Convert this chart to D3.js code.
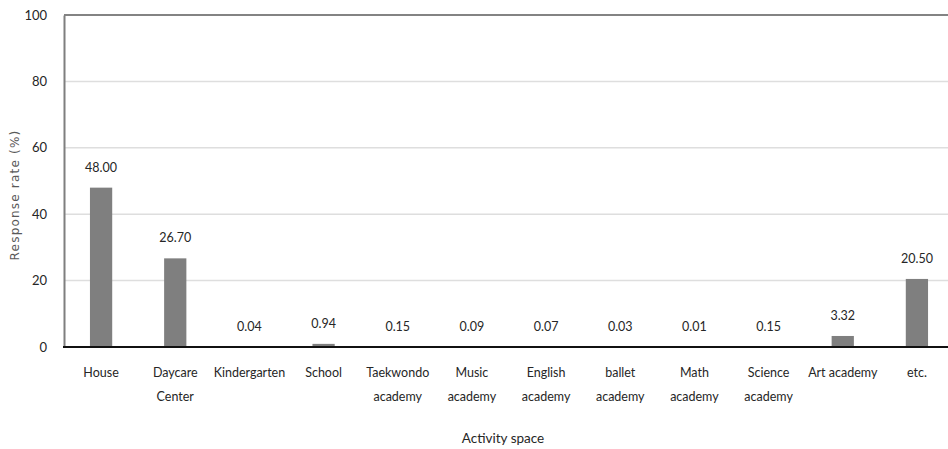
<!DOCTYPE html>
<html>
<head>
<meta charset="utf-8">
<script src="https://cdn.jsdelivr.net/npm/d3@7"></script>
<style>
  html, body { margin: 0; padding: 0; background: #fff; }
  svg { display: block; }
</style>
</head>
<body>
<svg id="chart" width="948" height="449"></svg>
<script>
// Response rate by activity space
const categories = [
  ["House"], ["Daycare", "Center"], ["Kindergarten"], ["School"],
  ["Taekwondo", "academy"], ["Music", "academy"], ["English", "academy"],
  ["ballet", "academy"], ["Math", "academy"], ["Science", "academy"],
  ["Art academy"], ["etc."]
];
const values = [48.00, 26.70, 0.04, 0.94, 0.15, 0.09, 0.07, 0.03, 0.01, 0.15, 3.32, 20.50];
const yTicks = [0, 20, 40, 60, 80, 100];

const svg = d3.select("#chart");
const margin = { left: 64, top: 15, right: -6, bottom: 102 };
const W = 948, H = 449;
const plotW = W - margin.left - margin.right;
const plotH = H - margin.top - margin.bottom;

const labelFont = "Lato, 'Open Sans', sans-serif";

const x = d3.scaleBand()
  .domain(d3.range(categories.length))
  .range([margin.left, margin.left + plotW])
  .paddingInner(0.7).paddingOuter(0.35);

const y = d3.scaleLinear().domain([0, 100]).range([margin.top + plotH, margin.top]);

// horizontal gridlines
svg.append("g")
  .selectAll("line")
  .data(yTicks.filter(t => t > 0 && t < 100))
  .join("line")
  .attr("x1", margin.left).attr("x2", W)
  .attr("y1", d => y(d)).attr("y2", d => y(d))
  .attr("stroke", "#dedede").attr("stroke-width", 1.5);

// top border
svg.append("line")
  .attr("x1", margin.left).attr("x2", W)
  .attr("y1", y(100)).attr("y2", y(100))
  .attr("stroke", "#5a5a5a").attr("stroke-width", 1.6);

// bars
svg.append("g")
  .selectAll("rect")
  .data(values)
  .join("rect")
  .attr("x", (d, i) => x(i))
  .attr("width", x.bandwidth())
  .attr("y", d => y(d))
  .attr("height", d => y(0) - y(d))
  .attr("fill", "#7f7f7f");

// value labels
svg.append("g")
  .selectAll("text")
  .data(values)
  .join("text")
  .attr("x", (d, i) => x(i) + x.bandwidth() / 2)
  .attr("y", d => y(d) - 16)
  .attr("text-anchor", "middle")
  .attr("font-family", labelFont)
  .attr("font-size", 12.5)
  .attr("fill", "#262626")
  .text(d => d.toFixed(2));

// y axis
const yAxis = d3.axisLeft(y).tickValues(yTicks).tickSize(0).tickPadding(17);
const gy = svg.append("g")
  .attr("transform", `translate(${margin.left},0)`)
  .call(yAxis);
gy.select(".domain").attr("stroke", "#7f7f7f").attr("stroke-width", 2);
gy.selectAll("text")
  .attr("font-family", labelFont)
  .attr("font-size", 13)
  .attr("fill", "#262626");

// x axis baseline
svg.append("line")
  .attr("x1", margin.left - 1).attr("x2", W)
  .attr("y1", y(0)).attr("y2", y(0))
  .attr("stroke", "#111").attr("stroke-width", 1.8);

// category labels
const cat = svg.append("g")
  .selectAll("text")
  .data(categories)
  .join("text")
  .attr("x", (d, i) => x(i) + x.bandwidth() / 2)
  .attr("y", y(0) + 30)
  .attr("text-anchor", "middle")
  .attr("font-family", labelFont)
  .attr("font-size", 12.5)
  .attr("fill", "#262626");
cat.selectAll("tspan")
  .data(d => d)
  .join("tspan")
  .attr("x", function () { return d3.select(this.parentNode).attr("x"); })
  .attr("dy", (d, i) => i === 0 ? 0 : 24)
  .text(d => d);

// axis titles
svg.append("text")
  .attr("x", 503).attr("y", y(0) + 96)
  .attr("text-anchor", "middle")
  .attr("font-family", labelFont)
  .attr("font-size", 13.5)
  .attr("fill", "#262626")
  .text("Activity space");

svg.append("text")
  .attr("transform", "translate(19,195) rotate(-90)")
  .attr("text-anchor", "middle")
  .attr("font-family", "'DejaVu Sans', Verdana, sans-serif")
  .attr("font-size", 12)
  .attr("letter-spacing", 1.2)
  .attr("fill", "#595959")
  .text("Response rate (%)");
</script>
</body>
</html>
